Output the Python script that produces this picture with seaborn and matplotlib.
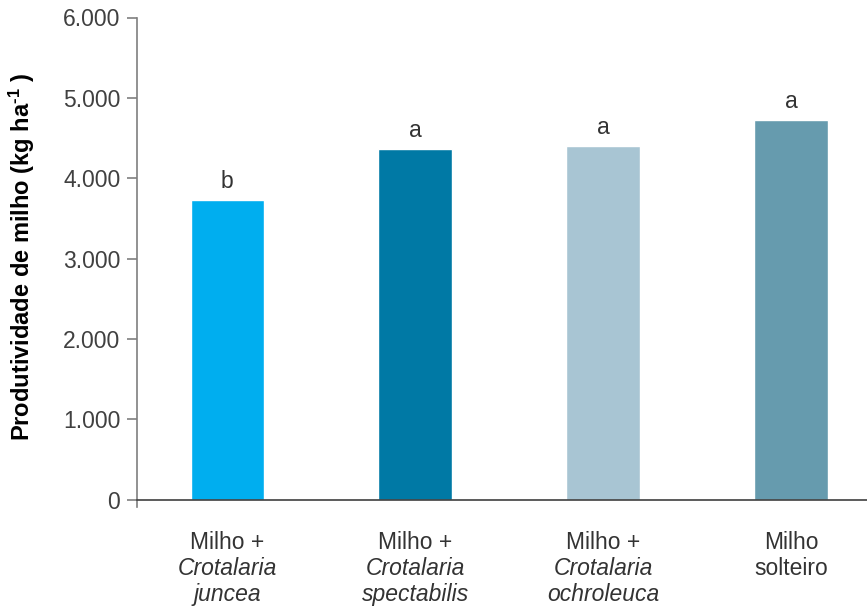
import matplotlib
matplotlib.use("Agg")
import matplotlib.pyplot as plt
import seaborn as sns
import pandas as pd
from matplotlib.transforms import blended_transform_factory

categories = ["Milho + Crotalaria juncea", "Milho + Crotalaria spectabilis",
              "Milho + Crotalaria ochroleuca", "Milho solteiro"]
label_line1 = ["Milho +", "Milho +", "Milho +", "Milho"]
label_line2 = ["Crotalaria", "Crotalaria", "Crotalaria", "solteiro"]
label_line3 = ["juncea", "spectabilis", "ochroleuca", ""]
line2_italic = [True, True, True, False]
values = [3725, 4365, 4400, 4720]
letters = ["b", "a", "a", "a"]
colors = ["#00AEEF", "#0079A5", "#A8C5D3", "#669BAE"]
yticks = [0, 1000, 2000, 3000, 4000, 5000, 6000]
ytick_labels = ["0", "1.000", "2.000", "3.000", "4.000", "5.000", "6.000"]

sns.set_theme(style="white")
plt.rcParams["font.family"] = ["Liberation Sans", "DejaVu Sans"]
plt.rcParams["mathtext.fontset"] = "custom"
plt.rcParams["mathtext.rm"] = "Liberation Sans:bold"
plt.rcParams["mathtext.bf"] = "Liberation Sans:bold"
plt.rcParams["mathtext.it"] = "Liberation Sans:italic"

df = pd.DataFrame({"cat": categories, "val": values})

fig = plt.figure(figsize=(8.67, 6.07), dpi=100)
ax = fig.add_axes([137 / 867, 1 - 506.7 / 607, 1 - 137 / 867, (506.7 - 17.5) / 607])

sns.barplot(data=df, x="cat", y="val", hue="cat", palette=colors, legend=False,
            width=0.39, ax=ax, saturation=1)

ax.set_xlim(-0.48, 3.405)
ax.set_ylim(-85, 6000)
ax.set_yticks(yticks)
ax.set_yticklabels(ytick_labels)
ax.tick_params(axis="y", labelsize=16.5, labelcolor="#404040", length=7, width=1.2,
               color="#7f7f7f", direction="out", left=True, pad=5)
ax.set_xticks([])
ax.set_xlabel("")
ax.set_ylabel("Produtividade de milho (kg ha$^{\\text{-1}}$ )", fontsize=17,
              fontweight="bold", color="#000000")
ax.yaxis.set_label_coords(-0.137, 0.51)

for s in ["top", "right"]:
    ax.spines[s].set_visible(False)
ax.spines["left"].set_color("#7f7f7f")
ax.spines["left"].set_linewidth(1.2)
ax.spines["bottom"].set_position(("data", 0))
ax.spines["bottom"].set_color("#404040")
ax.spines["bottom"].set_linewidth(1.2)
ax.spines["bottom"].set_zorder(5)

for i, (v, l) in enumerate(zip(values, letters)):
    ax.text(i, v + 150, l, ha="center", va="baseline", fontsize=16.5, color="#333333")

trans = blended_transform_factory(ax.transData, fig.transFigure)
for i in range(len(categories)):
    ax.text(i, 1 - 549 / 607, label_line1[i], ha="center", va="baseline",
            fontsize=16.5, color="#333333", transform=trans)
    ax.text(i, 1 - 575 / 607, label_line2[i], ha="center", va="baseline",
            fontsize=16.5, color="#333333", transform=trans,
            style="italic" if line2_italic[i] else "normal")
    if label_line3[i]:
        ax.text(i, 1 - 601 / 607, label_line3[i], ha="center", va="baseline",
                fontsize=16.5, color="#333333", transform=trans, style="italic")

fig.savefig("out.png", dpi=100)
